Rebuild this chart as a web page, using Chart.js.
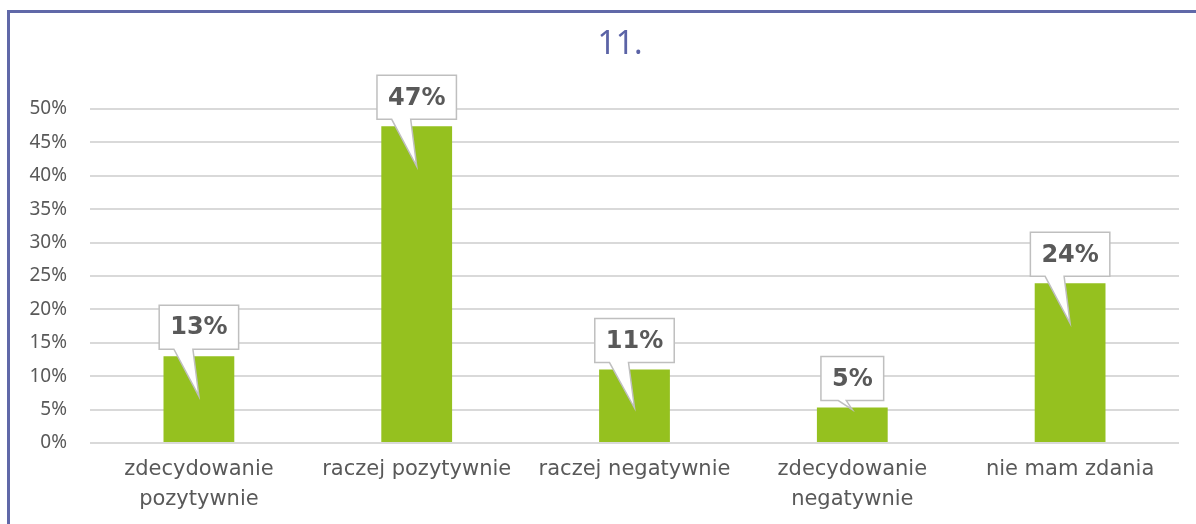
<!DOCTYPE html>
<html>
<head>
<meta charset="utf-8">
<script src="https://cdn.jsdelivr.net/npm/chart.js@4.4.1/dist/chart.umd.min.js"></script>
<style>
  html, body { margin: 0; padding: 0; background: #fff; }
  #wrap { position: relative; width: 1196px; height: 524px; overflow: hidden; }
  #frame {
    position: absolute; left: 7px; top: 10px; right: -10px; bottom: -10px;
    border-top: 3px solid #6068a8; border-left: 3px solid #6068a8;
  }
  canvas { position: absolute; left: 0; top: 0; }
</style>
</head>
<body>
<div id="wrap">
  <div id="frame"></div>
  <canvas id="c" width="1196" height="524"></canvas>
</div>
<script>
// dane
const TITLE = "11.";
const CATEGORIES = [
  ["zdecydowanie", "pozytywnie"],
  "raczej pozytywnie",
  "raczej negatywnie",
  ["zdecydowanie", "negatywnie"],
  "nie mam zdania",
];
const VALUES = [13.0, 47.4, 11.0, 5.3, 23.9];
const Y_TICKS_MAX = 50;
const Y_TICKS_STEP = 5;

const BAR_COLOR = "#95c11f";
const TEXT_GREY = "#595959";
const GRID_GREY = "#d9d9d9";

/** tytuł rysowany ręcznie (przesunięty względem środka płótna) */
const titlePlugin = {
  id: "titleText",
  afterDraw(chart) {
    const ctx = chart.ctx;
    ctx.save();
    ctx.font = "32px 'Noto Sans', sans-serif";
    ctx.fillStyle = "#5b63a6";
    ctx.textAlign = "center";
    ctx.textBaseline = "middle";
    ctx.fillText(TITLE, 620, 45);
    ctx.restore();
  },
};

/** dymki z etykietami wartości */
const calloutPlugin = {
  id: "callouts",
  afterDatasetsDraw(chart) {
    const ctx = chart.ctx;
    const meta = chart.getDatasetMeta(0);
    ctx.save();
    ctx.font = "bold 24px 'DejaVu Sans', sans-serif";
    meta.data.forEach((bar, i) => {
      const label = Math.round(VALUES[i]) + "%";
      const cx = bar.x;
      const top = bar.y;
      const barH = bar.base - bar.y;
      const tw = ctx.measureText(label).width;
      const w = tw + 22;
      const h = 44;
      const left = cx - w / 2;
      const bottom = top - 7;
      const boxTop = bottom - h;
      const tipY = top + Math.min(40, Math.max(2, barH - 34));
      const shortTail = tipY - bottom < 20;
      const b1 = cx - (shortTail ? 14 : 25);
      const b2 = cx - 6;

      ctx.beginPath();
      ctx.moveTo(left, boxTop);
      ctx.lineTo(left + w, boxTop);
      ctx.lineTo(left + w, bottom);
      ctx.lineTo(b2, bottom);
      ctx.lineTo(cx, tipY);
      ctx.lineTo(b1, bottom);
      ctx.lineTo(left, bottom);
      ctx.closePath();
      ctx.fillStyle = "#ffffff";
      ctx.fill();
      ctx.lineWidth = 1.5;
      ctx.strokeStyle = "#bfbfbf";
      ctx.lineJoin = "miter";
      ctx.stroke();

      ctx.fillStyle = TEXT_GREY;
      ctx.textAlign = "center";
      ctx.textBaseline = "middle";
      ctx.fillText(label, cx, boxTop + h / 2 + 1);
    });
    ctx.restore();
  },
};

const ctx = document.getElementById("c").getContext("2d");
new Chart(ctx, {
  type: "bar",
  data: {
    labels: CATEGORIES,
    datasets: [{
      data: VALUES,
      backgroundColor: BAR_COLOR,
      borderWidth: 0,
      categoryPercentage: 1,
      barPercentage: 0.325,
    }],
  },
  options: {
    responsive: false,
    animation: false,
    layout: { padding: { left: 10, right: 17, top: 109, bottom: 0 } },
    plugins: {
      legend: { display: false },
      tooltip: { enabled: false },
      title: { display: false },
    },
    scales: {
      x: {
        grid: { display: false, drawTicks: false },
        border: { display: false },
        ticks: {
          color: TEXT_GREY,
          font: { family: "'DejaVu Sans', sans-serif", size: 21, lineHeight: 1.4 },
          padding: 12,
          maxRotation: 0,
          autoSkip: false,
        },
        afterFit: (s) => { s.height = 81; },
      },
      y: {
        min: 0,
        max: Y_TICKS_MAX,
        grid: { color: GRID_GREY, lineWidth: 2, drawTicks: false },
        border: { display: false },
        ticks: {
          stepSize: Y_TICKS_STEP,
          color: TEXT_GREY,
          font: { family: "'Noto Sans', sans-serif", size: 19 },
          padding: 23,
          callback: (v) => v + "%",
        },
        afterFit: (s) => { s.width = 80; },
      },
    },
  },
  plugins: [titlePlugin, calloutPlugin],
});
</script>
</body>
</html>
